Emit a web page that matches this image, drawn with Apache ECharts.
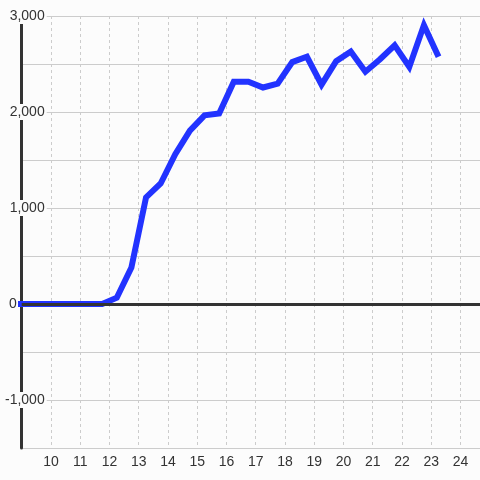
<!DOCTYPE html>
<html>
<head>
<meta charset="utf-8">
<script src="https://cdn.jsdelivr.net/npm/echarts@6/dist/echarts.min.js"></script>
<style>
  html, body { margin: 0; padding: 0; background: #fcfcfc; }
  #chart { width: 480px; height: 480px; }
</style>
</head>
<body>
<div id="chart"></div>
<script>
// x positions (half-hour steps) and values of the line
const hours = [8.75, 9.25, 9.75, 10.25, 10.75, 11.25, 11.75, 12.25, 12.75, 13.25,
  13.75, 14.25, 14.75, 15.25, 15.75, 16.25, 16.75, 17.25, 17.75, 18.25,
  18.75, 19.25, 19.75, 20.25, 20.75, 21.25, 21.75, 22.25, 22.75, 23.25];
const values = [0, 0, 0, 0, 0, 0, 0, 65, 380, 1110,
  1255, 1560, 1805, 1965, 1985, 2315, 2315, 2255, 2295, 2520,
  2575, 2285, 2530, 2630, 2420, 2550, 2695, 2470, 2905, 2575];
const baseline = 0;

const bg = '#fcfcfc';
const font = 'Liberation Sans, Arial, sans-serif';

const chart = echarts.init(document.getElementById('chart'));

const option = {
  backgroundColor: bg,
  animation: false,
  grid: { left: 20, right: -10, top: 16, bottom: 32 },
  xAxis: {
    type: 'value',
    min: 9,
    max: 24.667,
    interval: 1,
    axisLine: { show: false, onZero: false },
    axisTick: { show: false },
    axisLabel: {
      showMinLabel: false,
      showMaxLabel: false,
      fontSize: 14,
      fontFamily: font,
      color: '#333',
      margin: 7
    },
    splitLine: {
      show: true,
      lineStyle: { color: '#ccc', width: 1, type: [3, 3] }
    }
  },
  yAxis: {
    type: 'value',
    min: -1500,
    max: 3000,
    interval: 500,
    axisLine: { show: true, onZero: false, lineStyle: { color: '#333', width: 3 } },
    axisTick: { show: false },
    splitLine: { show: true, lineStyle: { color: '#ccc', width: 1 } },
    axisLabel: {
      margin: -25,
      fontSize: 14,
      fontFamily: font,
      color: '#333',
      formatter: function (v) {
        if (v % 1000 !== 0) return '';
        if (v === 0) return '{z|0}';
        return '{b|' + v.toLocaleString('en-US') + '}';
      },
      rich: {
        b: { backgroundColor: bg, fontSize: 14, fontFamily: font, color: '#333', padding: [1, 2, 1, 2], lineHeight: 14 },
        z: { fontSize: 14, fontFamily: font, color: '#333', padding: [0, 30, 0, 0] }
      }
    }
  },
  series: [
    {
      // zero line, drawn under the data line
      type: 'line',
      z: 1,
      data: [],
      markLine: {
        silent: true,
        symbol: 'none',
        label: { show: false },
        lineStyle: { color: '#333', width: 3, type: 'solid' },
        data: [{ yAxis: baseline }]
      }
    },
    {
      type: 'line',
      z: 3,
      data: hours.map((h, i) => [h, values[i]]),
      showSymbol: false,
      lineStyle: { color: '#2233ff', width: 6, join: 'miter', cap: 'butt' },
      itemStyle: { color: '#2233ff' }
    }
  ]
};

chart.setOption(option);
</script>
</body>
</html>
